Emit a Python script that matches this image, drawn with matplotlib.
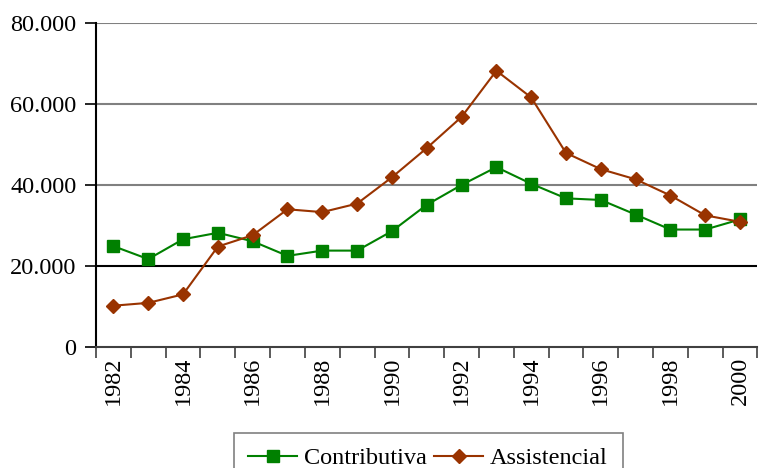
import matplotlib
matplotlib.use("Agg")
import matplotlib.pyplot as plt
import numpy as np
from matplotlib.ticker import FuncFormatter, FixedLocator

years = list(range(1982, 2001))
contributiva = [24900, 21700, 26600, 28200, 26100, 22500, 23800, 23800, 28600, 35100,
                40000, 44400, 40300, 36700, 36300, 32700, 29000, 29000, 31500]
assistencial = [10200, 10900, 13000, 24800, 27600, 34000, 33300, 35400, 41900, 49100,
                56800, 68200, 61600, 47900, 43900, 41400, 37400, 32500, 30900]
year_labels = [str(y) if (y - 1982) % 2 == 0 else "" for y in years]

plt.rcParams['font.family'] = ['Liberation Serif', 'DejaVu Serif']

fig = plt.figure(figsize=(7.59, 4.68), dpi=100)
ax = fig.add_axes([0.1265, 0.2585, 0.8715, 0.6925])

x = np.arange(len(years))
ax.plot(x, contributiva, color='#008000', marker='s', markersize=8, lw=1.5,
        label='Contributiva', zorder=3)
ax.plot(x, assistencial, color='#993300', marker='D', markersize=7.5, lw=1.5,
        label='Assistencial', zorder=4)

ax.set_ylim(0, 80000)
ax.set_xlim(-0.5, len(years) - 0.5)
ax.set_yticks([0, 20000, 40000, 60000, 80000])
ax.yaxis.set_major_formatter(FuncFormatter(lambda v, p: f"{int(v):,}".replace(",", ".")))
for yv, c in [(20000, '#000000'), (40000, '#808080'), (60000, '#808080'), (80000, '#808080')]:
    ax.axhline(yv, color=c, lw=1.5, zorder=1)

ax.xaxis.set_major_locator(FixedLocator(np.arange(-0.5, len(years), 1.0)))
ax.set_xticklabels([])
ax.xaxis.set_minor_locator(FixedLocator(x))
ax.set_xticklabels(year_labels, minor=True, rotation=90)
ax.tick_params(axis='x', which='major', length=8, width=1.2, color='#404040')
ax.tick_params(axis='x', which='minor', length=0, pad=7, labelsize=17.5)
ax.tick_params(axis='y', length=8, width=1.2, pad=6, labelsize=17.5)

for s in ['top', 'right']:
    ax.spines[s].set_visible(False)
ax.spines['left'].set_linewidth(1.5)
ax.spines['bottom'].set_linewidth(1.5)
ax.spines['bottom'].set_color('#404040')

leg = fig.legend(loc='upper center', bbox_to_anchor=(0.564, 0.075), ncol=2,
                 fontsize=17.5, frameon=True, fancybox=False, edgecolor='#606060',
                 handlelength=2.0, columnspacing=0.3, handletextpad=0.3,
                 borderpad=0.6, borderaxespad=0)
leg.get_frame().set_linewidth(1.2)

fig.savefig("out.png", dpi=100)
